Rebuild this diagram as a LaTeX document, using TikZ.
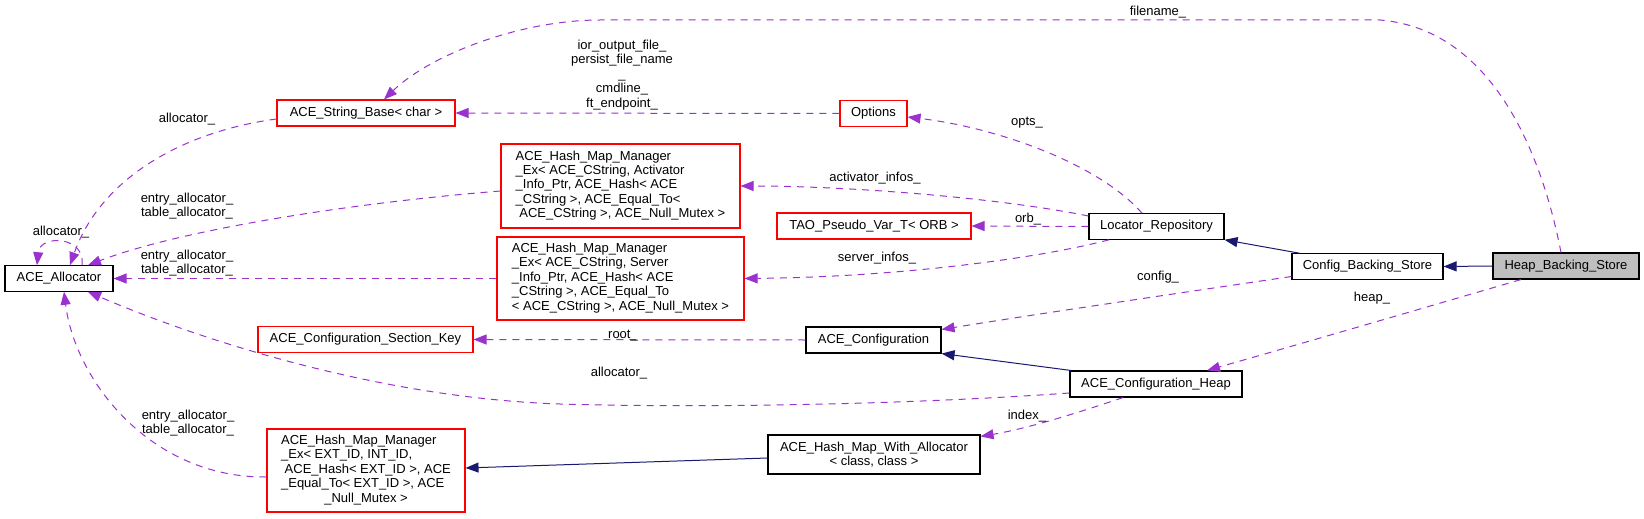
\documentclass[tikz,border=0pt]{standalone}
\usepackage{fontspec}
\setmainfont{Liberation Sans}
\usetikzlibrary{arrows.meta}
\definecolor{linkpurple}{HTML}{9A32CD}
\definecolor{inheritblue}{HTML}{191970}
\definecolor{boxgray}{HTML}{BFBFBF}

\begin{document}
\begin{tikzpicture} [x=1pt, y=-1pt, font=\fontsize{13}{14.4}\selectfont,
  cls/.style={draw, line width=1.1pt, inner xsep=3pt, inner ysep=2pt, minimum height=25.5pt},
  redcls/.style={cls, draw=red},
  usage/.style={linkpurple, line width=1pt, dash pattern=on 7pt off 6pt, -{Triangle[length=13pt,width=10pt]}},
  inherit/.style={inheritblue, line width=1pt, -{Triangle[length=13pt,width=10pt]}},
  lbl/.style={inner sep=0pt, align=center}]
\useasboundingbox (0,0) rectangle (1644,519);

\node[cls, minimum width=108pt] (alloc) at (59,278.5) {ACE\_Allocator};
\node[redcls, minimum width=178pt, minimum height=26pt] (strbase) at (366,113) {ACE\_String\_Base< char >};
\node[redcls, minimum width=215pt] (seckey) at (365.5,339.5) {ACE\_Configuration\_Section\_Key};
\node[redcls, minimum width=198pt, minimum height=83pt] (hmmext) at (366,470.5) {\begin{tabular}{@{}l@{}}
  ACE\_Hash\_Map\_Manager\\ \_Ex< EXT\_ID, INT\_ID,\\ \ ACE\_Hash< EXT\_ID >, ACE\\
  \_Equal\_To< EXT\_ID >, ACE\\ \multicolumn{1}{@{}c@{}}{\_Null\_Mutex >}\end{tabular}};
\node[redcls, minimum width=239pt, minimum height=84pt] (hmmact) at (620.5,186) {\begin{tabular}{@{}l@{}}
  ACE\_Hash\_Map\_Manager\\ \_Ex< ACE\_CString, Activator\\ \_Info\_Ptr, ACE\_Hash< ACE\\
  \_CString >, ACE\_Equal\_To<\\ \multicolumn{1}{@{}c@{}}{\ ACE\_CString >, ACE\_Null\_Mutex >}\end{tabular}};
\node[redcls, minimum width=247pt, minimum height=83pt] (hmmsrv) at (620.5,278.5) {\begin{tabular}{@{}l@{}}
  ACE\_Hash\_Map\_Manager\\ \_Ex< ACE\_CString, Server\\ \_Info\_Ptr, ACE\_Hash< ACE\\
  \_CString >, ACE\_Equal\_To\\ \multicolumn{1}{@{}c@{}}{< ACE\_CString >, ACE\_Null\_Mutex >}\end{tabular}};
\node[redcls, minimum width=67pt] (options) at (873.5,113.5) {Options};
\node[redcls, minimum width=194pt, minimum height=26pt] (tao) at (874,226) {TAO\_Pseudo\_Var\_T< ORB >};
\node[cls, minimum width=135pt, minimum height=26pt] (cfg) at (873.5,340) {ACE\_Configuration};
\node[cls, minimum width=212pt, minimum height=39pt, align=center] (hmwa) at (874,454.5) {ACE\_Hash\_Map\_With\_Allocator\\< class, class >};
\node[cls, minimum width=135pt] (locrepo) at (1156.5,226.5) {Locator\_Repository};
\node[cls, minimum width=172pt, minimum height=26pt] (cfgheap) at (1156,384) {ACE\_Configuration\_Heap};
\node[cls, minimum width=151pt] (cfgbs) at (1367.5,266.5) {Config\_Backing\_Store};
\node[cls, fill=boxgray, minimum width=146pt, minimum height=26pt] (heapbs) at (1566,266) {Heap\_Backing\_Store};

\draw[inherit] (heapbs.west) -- (cfgbs.east);
\draw[inherit] ([xshift=-68pt]cfgbs.north) -- (locrepo.south east);
\draw[inherit] ([xshift=-85pt]cfgheap.north) -- (cfg.south east);
\draw[inherit] ([yshift=-3.5pt]hmwa.west) -- ([yshift=2.5pt]hmmext.east);

\draw[usage] ([xshift=-5pt]heapbs.north) .. controls (1545,170) and (1500,30) .. (1380,20) -- (600,20) .. controls (520,20) and (430,55) .. ([xshift=18pt]strbase.north);
\draw[usage] ([xshift=-45pt]heapbs.south) .. controls (1420,309) and (1300,344) .. ([xshift=51pt]cfgheap.north);
\draw[usage] ([yshift=-10pt]cfgbs.west) .. controls (1200,290) and (1050,312) .. ([yshift=-3pt]cfg.north east);
\draw[usage] ([xshift=-14.5pt]locrepo.north) .. controls (1100,165) and (1000,128) .. ([yshift=-3.5pt]options.east);
\draw[usage] ([yshift=10.5pt]locrepo.west) .. controls (1000,198) and (850,186) .. (hmmact.east);
\draw[usage] (locrepo.west) -- (tao.east);
\draw[usage] ([xshift=-47.5pt]locrepo.south) .. controls (1040,258) and (900,277) .. (hmmsrv.east);
\draw[usage] (options.west) -- (strbase.east);
\draw[usage] (cfg.west) -- (seckey.east);
\draw[usage] ([yshift=-9pt]cfgheap.west) .. controls (900,405) and (700,408) .. (560,404) .. controls (380,398) and (200,340) .. ([xshift=29pt]alloc.south);
\draw[usage] ([xshift=-33pt]cfgheap.south) .. controls (1080,412) and (1030,428) .. ([yshift=-2pt]hmwa.north east);
\draw[usage] ([yshift=-6.5pt]hmmext.west) .. controls (150,478) and (75,380) .. ([xshift=5pt]alloc.south);
\draw[usage] (hmmsrv.west) -- (alloc.east);
\draw[usage] ([yshift=-5pt]hmmact.west) .. controls (350,203) and (180,230) .. ([xshift=29pt]alloc.north);
\draw[usage] ([yshift=-6pt]strbase.west) .. controls (180,132) and (100,180) .. ([xshift=11pt]alloc.north);
\draw[usage] ([xshift=23pt]alloc.north) .. controls (86,236) and (40,234) .. ([xshift=-22pt]alloc.north);

\node[lbl] (lfile) at (1158,12) {filename\_};
\node[lbl] (lior) at (622,75) {ior\_output\_file\_\\persist\_file\_name\\\_\\cmdline\_\\ft\_endpoint\_};
\node[lbl] (lopts) at (1027,123) {opts\_};
\node[lbl] (lact) at (875,178) {activator\_infos\_};
\node[lbl] (lorb) at (1028,219) {orb\_};
\node[lbl] (lsrv) at (877,258) {server\_infos\_};
\node[lbl] (lcfg) at (1158,277) {config\_};
\node[lbl] (lheap) at (1372,298) {heap\_};
\node[lbl] (lroot) at (623,336) {root\_};
\node[lbl] (lalloc) at (619,373) {allocator\_};
\node[lbl] (lindex) at (1027,416) {index\_};
\node[lbl] (lentry3) at (188,423) {entry\_allocator\_\\table\_allocator\_};
\node[lbl] (lentry2) at (187,263) {entry\_allocator\_\\table\_allocator\_};
\node[lbl] (lentry1) at (187,206) {entry\_allocator\_\\table\_allocator\_};
\node[lbl] (lsalloc) at (187,119) {allocator\_};
\node[lbl] (lself) at (61,232) {allocator\_};
\end{tikzpicture}
\end{document}
